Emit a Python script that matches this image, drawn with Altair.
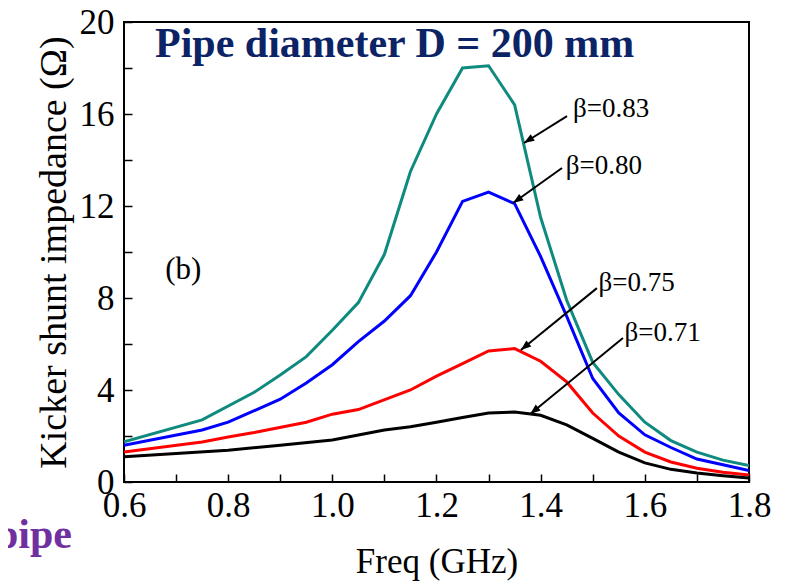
import math
import altair as alt
import pandas as pd

# ---- data ----
x_083 = [0.6, 0.75, 0.85, 0.9, 0.95, 1.0, 1.05, 1.1, 1.15, 1.2, 1.25, 1.3, 1.35, 1.4, 1.45, 1.5, 1.55, 1.6, 1.65, 1.7, 1.75, 1.8]
y_083 = [1.75, 2.7, 3.9, 4.65, 5.45, 6.6, 7.8, 9.9, 13.5, 16.0, 18.0, 18.1, 16.4, 11.5, 7.9, 5.2, 3.8, 2.6, 1.8, 1.3, 0.95, 0.72]

x_080 = [0.6, 0.75, 0.8, 0.9, 0.95, 1.0, 1.05, 1.1, 1.15, 1.2, 1.25, 1.3, 1.35, 1.4, 1.45, 1.5, 1.55, 1.6, 1.65, 1.7, 1.75, 1.8]
y_080 = [1.6, 2.26, 2.6, 3.6, 4.3, 5.1, 6.1, 7.0, 8.1, 10.0, 12.2, 12.6, 12.1, 9.8, 7.2, 4.5, 3.0, 2.05, 1.5, 1.0, 0.75, 0.5]

x_075 = [0.6, 0.75, 0.8, 0.85, 0.95, 1.0, 1.05, 1.15, 1.2, 1.25, 1.3, 1.35, 1.4, 1.45, 1.5, 1.55, 1.6, 1.65, 1.7, 1.75, 1.8]
y_075 = [1.3, 1.74, 1.96, 2.15, 2.6, 2.95, 3.15, 4.0, 4.6, 5.15, 5.7, 5.8, 5.25, 4.35, 3.0, 2.0, 1.3, 0.87, 0.6, 0.42, 0.3]

x_071 = [0.6, 0.8, 0.9, 1.0, 1.05, 1.1, 1.15, 1.2, 1.25, 1.3, 1.35, 1.4, 1.45, 1.5, 1.55, 1.6, 1.65, 1.7, 1.75, 1.8]
y_071 = [1.1, 1.38, 1.6, 1.83, 2.04, 2.26, 2.4, 2.6, 2.8, 3.0, 3.04, 2.9, 2.48, 1.9, 1.3, 0.83, 0.55, 0.39, 0.27, 0.17]

series_names = ["β=0.83", "β=0.80", "β=0.75", "β=0.71"]
series_colors = ["#0f8a7e", "#0000ff", "#ff0000", "#000000"]

# annotation labels (left edge, vertical centre) and arrows (start -> tip)
label_x = [1.462, 1.448, 1.511, 1.561]
label_y = [16.2, 13.75, 8.65, 6.5]
arrow_x0 = [1.4506, 1.441, 1.508, 1.558]
arrow_y0 = [15.91, 13.65, 8.43, 6.26]
arrow_x1 = [1.368, 1.347, 1.362, 1.380]
arrow_y1 = [14.74, 12.13, 5.74, 2.96]

x_ticks = [0.6, 0.7, 0.8, 0.9, 1.0, 1.1, 1.2, 1.3, 1.4, 1.5, 1.6, 1.7, 1.8]
y_ticks = [0, 2, 4, 6, 8, 10, 12, 14, 16, 18, 20]

W, H = 625, 460
FONT = "Liberation Serif"

rows = []
for name, xs, ys in zip(series_names, [x_083, x_080, x_075, x_071], [y_083, y_080, y_075, y_071]):
    for xv, yv in zip(xs, ys):
        rows.append({"series": name, "freq": xv, "imp": yv})
df = pd.DataFrame(rows)

px_x = W / 1.2
px_y = H / 20.0
ann = pd.DataFrame({
    "label": series_names,
    "lx": label_x, "ly": label_y,
    "x0": arrow_x0, "y0": arrow_y0, "x1": arrow_x1, "y1": arrow_y1,
})
ann["angle"] = [
    math.degrees(math.atan2(-(b1 - b0) * px_y, (a1 - a0) * px_x)) % 360
    for a0, b0, a1, b1 in zip(arrow_x0, arrow_y0, arrow_x1, arrow_y1)
]

xscale = alt.Scale(domain=[0.6, 1.8], nice=False, zero=False)
yscale = alt.Scale(domain=[0, 20], nice=False)

x_axis = alt.Axis(
    values=x_ticks,
    labelExpr="abs(round(datum.value*10)) % 2 == 0 ? format(datum.value, '.1f') : ''",
    tickSize=8, offset=-8, domain=False, grid=False, tickColor="black", tickWidth=1.5,
    labelFont=FONT, labelFontSize=35, labelColor="black", labelPadding=6,
    labelFlush=False, labelOverlap=False,
    title="Freq (GHz)", titleFont=FONT, titleFontSize=35, titleFontWeight="normal",
    titleColor="black", titlePadding=21,
)
y_axis = alt.Axis(
    values=y_ticks,
    labelExpr="datum.value % 4 == 0 ? format(datum.value, 'd') : ''",
    tickSize=8, offset=-8, domain=False, grid=False, tickColor="black", tickWidth=1.5,
    labelFont=FONT, labelFontSize=35, labelColor="black", labelPadding=10,
    labelFlush=False, labelOverlap=False,
    title="Kicker shunt impedance (Ω)", titleFont=FONT, titleFontSize=38,
    titleFontWeight="normal", titleColor="black", titlePadding=6,
)

lines = alt.Chart(df).mark_line(strokeWidth=3, clip=True).encode(
    x=alt.X("freq:Q", scale=xscale, axis=x_axis),
    y=alt.Y("imp:Q", scale=yscale, axis=y_axis),
    color=alt.Color("series:N", scale=alt.Scale(domain=series_names, range=series_colors), legend=None),
)

arrow_lines = alt.Chart(ann).mark_rule(strokeWidth=2, color="black").encode(
    x="x0:Q", y="y0:Q", x2="x1:Q", y2="y1:Q"
)
arrow_heads = alt.Chart(ann).mark_point(
    shape="M0,0L-1,-0.38L-1,0.38Z", filled=True, color="black", opacity=1, size=420
).encode(x="x1:Q", y="y1:Q", angle=alt.Angle("angle:Q", scale=None))

labels = alt.Chart(ann).mark_text(
    font=FONT, fontSize=27, align="left", baseline="middle", color="black"
).encode(x="lx:Q", y="ly:Q", text="label:N")

title_df = pd.DataFrame({"t": ["Pipe diameter D = 200 mm"], "x": [0.6595], "y": [18.48]})
title = alt.Chart(title_df).mark_text(
    font=FONT, fontSize=42, fontWeight="bold", align="left", baseline="alphabetic", color="#0c2465"
).encode(x="x:Q", y="y:Q", text="t:N")

b_df = pd.DataFrame({"t": ["(b)"], "x": [0.679], "y": [9.2]})
b_label = alt.Chart(b_df).mark_text(
    font=FONT, fontSize=31, align="left", baseline="middle", color="black"
).encode(x="x:Q", y="y:Q", text="t:N")

pipe_df = pd.DataFrame({"t": ["pipe"]})
pipe = alt.Chart(pipe_df).mark_text(
    font=FONT, fontSize=42, fontWeight="bold", align="right", baseline="alphabetic", color="#7030a0"
).encode(x=alt.value(-52), y=alt.value(526), text="t:N")

chart = (
    alt.layer(lines, arrow_lines, arrow_heads, labels, title, b_label, pipe)
    .properties(
        width=W, height=H,
        autosize=alt.AutoSizeParams(type="none"),
        padding={"left": 116, "top": 14, "right": 29, "bottom": 100},
    )
    .configure(background="white", font=FONT)
    .configure_view(stroke="black", strokeWidth=2)
)

chart.save("out.html", embed_options={"renderer": "svg", "actions": False})
